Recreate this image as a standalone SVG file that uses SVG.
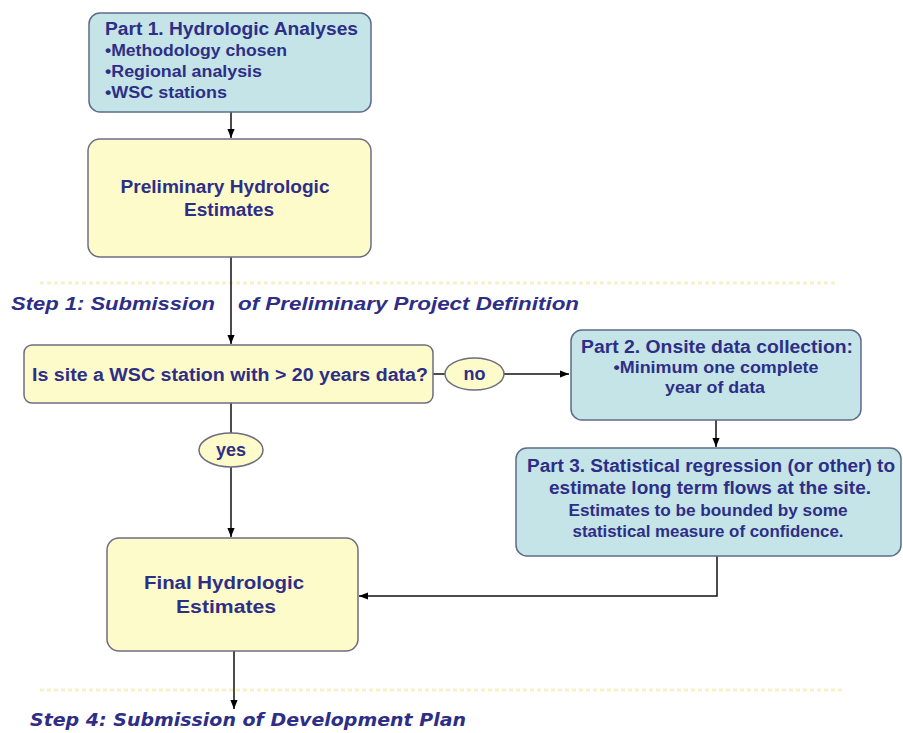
<svg xmlns="http://www.w3.org/2000/svg" width="903" height="733" viewBox="0 0 903 733">
<defs>
<marker id="ah" viewBox="0 0 10 10" refX="10" refY="5" markerWidth="9" markerHeight="9" markerUnits="userSpaceOnUse" orient="auto">
<path d="M0,1 L10,5 L0,9 z" fill="#000"/>
</marker>
</defs>
<style>
.blue{fill:#c4e4e8;stroke:#5d6b8a;stroke-width:1.5}
.yel{fill:#fdfbca;stroke:#6d6d80;stroke-width:1.5}
.t{font-family:"Liberation Sans",Arial,sans-serif;font-weight:bold;fill:#2e2e86;font-size:18px}
.s{font-size:16px}
.step{font-family:"Liberation Sans",Arial,sans-serif;font-weight:bold;font-style:italic;fill:#2e2e86;font-size:19px}
.step4{font-family:"DejaVu Sans",Verdana,sans-serif;font-weight:bold;font-style:italic;fill:#2e2e86;font-size:17px}
.c{fill:none;stroke:#111;stroke-width:1.5}
.faint{stroke:#f6f2c8;stroke-width:3;stroke-dasharray:4 3}
</style>
<rect width="903" height="733" fill="#fff"/>
<line class="faint" x1="40" y1="283" x2="835" y2="283"/>
<line class="faint" x1="40" y1="690" x2="845" y2="690"/>
<g id="connectors">
<line class="c" x1="231" y1="112" x2="231" y2="138" marker-end="url(#ah)"/>
<line class="c" x1="231" y1="257" x2="231" y2="344" marker-end="url(#ah)"/>
<line class="c" x1="433" y1="374" x2="445" y2="374"/>
<line class="c" x1="504" y1="374" x2="569" y2="374" marker-end="url(#ah)"/>
<line class="c" x1="716" y1="420" x2="716" y2="447" marker-end="url(#ah)"/>
<line class="c" x1="231" y1="403" x2="231" y2="433"/>
<line class="c" x1="231" y1="467" x2="231" y2="537" marker-end="url(#ah)"/>
<polyline class="c" points="717,556 717,596 359,596" marker-end="url(#ah)"/>
<line class="c" x1="234" y1="651" x2="234" y2="709" marker-end="url(#ah)"/>
</g>
<g id="part1">
<rect class="blue" x="89" y="13" width="282" height="99" rx="11"/>
<text class="t" x="105" y="35" textLength="253" lengthAdjust="spacingAndGlyphs">Part 1. Hydrologic Analyses</text>
<text class="t s" x="105" y="56" textLength="182" lengthAdjust="spacingAndGlyphs">•Methodology chosen</text>
<text class="t s" x="105" y="77" textLength="157" lengthAdjust="spacingAndGlyphs">•Regional analysis</text>
<text class="t s" x="105" y="98" textLength="122" lengthAdjust="spacingAndGlyphs">•WSC stations</text>
</g>
<g id="prelim">
<rect class="yel" x="88" y="139" width="283" height="118" rx="12"/>
<text class="t" x="225" y="193" text-anchor="middle" textLength="209" lengthAdjust="spacingAndGlyphs">Preliminary Hydrologic</text>
<text class="t" x="229" y="216" text-anchor="middle" textLength="90" lengthAdjust="spacingAndGlyphs">Estimates</text>
</g>
<g id="step1">
<text class="step" x="11" y="310" textLength="204" lengthAdjust="spacingAndGlyphs">Step 1: Submission</text>
<text class="step" x="238" y="310" textLength="341" lengthAdjust="spacingAndGlyphs">of Preliminary Project Definition</text>
</g>
<g id="decision">
<rect class="yel" x="24" y="345" width="409" height="58" rx="8"/>
<text class="t" x="32" y="381" textLength="396" lengthAdjust="spacingAndGlyphs">Is site a WSC station with &gt; 20 years data?</text>
</g>
<g id="no">
<ellipse class="yel" cx="474.5" cy="374" rx="29.5" ry="16"/>
<text class="t" x="474.5" y="380" text-anchor="middle">no</text>
</g>
<g id="part2">
<rect class="blue" x="571" y="330" width="290" height="90" rx="11"/>
<text class="t" x="717" y="353" text-anchor="middle" textLength="272" lengthAdjust="spacingAndGlyphs">Part 2. Onsite data collection:</text>
<text class="t s" x="716" y="373" text-anchor="middle" textLength="205" lengthAdjust="spacingAndGlyphs">•Minimum one complete</text>
<text class="t s" x="715" y="393" text-anchor="middle" textLength="100" lengthAdjust="spacingAndGlyphs">year of data</text>
</g>
<g id="part3">
<rect class="blue" x="516" y="448" width="385" height="108" rx="11"/>
<text class="t" x="711" y="472" text-anchor="middle" textLength="368" lengthAdjust="spacingAndGlyphs">Part 3. Statistical regression (or other) to</text>
<text class="t" x="710" y="494" text-anchor="middle" textLength="322" lengthAdjust="spacingAndGlyphs">estimate long term flows at the site.</text>
<text class="t s" x="708" y="516" text-anchor="middle" textLength="279" lengthAdjust="spacingAndGlyphs">Estimates to be bounded by some</text>
<text class="t s" x="708" y="537" text-anchor="middle" textLength="271" lengthAdjust="spacingAndGlyphs">statistical measure of confidence.</text>
</g>
<g id="yes">
<ellipse class="yel" cx="231" cy="450" rx="32" ry="17"/>
<text class="t" x="231" y="456" text-anchor="middle">yes</text>
</g>
<g id="final">
<rect class="yel" x="107" y="538" width="251" height="113" rx="12"/>
<text class="t" x="224" y="589" text-anchor="middle" textLength="160" lengthAdjust="spacingAndGlyphs">Final Hydrologic</text>
<text class="t" x="226" y="613" text-anchor="middle" textLength="100" lengthAdjust="spacingAndGlyphs">Estimates</text>
</g>
<g id="step4">
<text class="step4" x="30" y="726" textLength="436" lengthAdjust="spacingAndGlyphs">Step 4: Submission of Development Plan</text>
</g>
</svg>
